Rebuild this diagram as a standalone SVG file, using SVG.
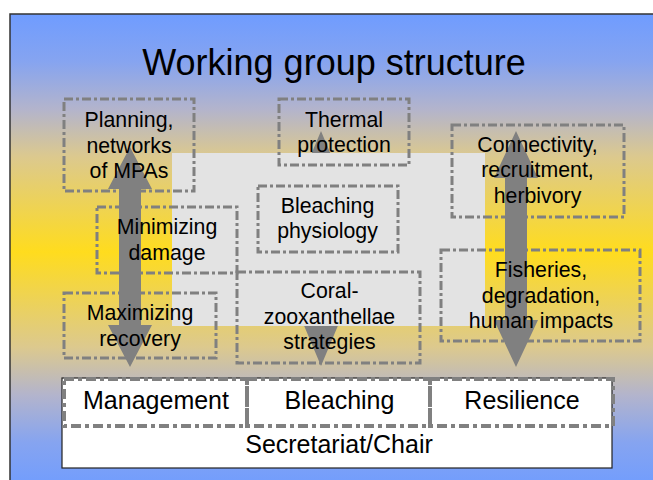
<svg xmlns="http://www.w3.org/2000/svg" width="653" height="480" viewBox="0 0 653 480">
<defs>
<linearGradient id="bg" x1="0" y1="14" x2="0" y2="490" gradientUnits="userSpaceOnUse">
<stop offset="0" stop-color="#6f9cff"/>
<stop offset="0.1" stop-color="#86a4f0"/>
<stop offset="0.2" stop-color="#b3b4cc"/>
<stop offset="0.3" stop-color="#dcc98e"/>
<stop offset="0.5" stop-color="#ffdc1e"/>
<stop offset="0.7" stop-color="#dcc98e"/>
<stop offset="0.8" stop-color="#b3b4cc"/>
<stop offset="0.9" stop-color="#86a4f0"/>
<stop offset="1" stop-color="#6f9cff"/>
</linearGradient>
<style>
text{font-family:"Liberation Sans",Arial,sans-serif;fill:#000;text-anchor:middle}
.lbl{font-size:21.3px}
.bl{font-size:25px}
.db{fill:none;stroke:#808080;stroke-width:3;stroke-dasharray:9 3 3 3}
.bb{fill:none;stroke:#808080;stroke-width:4;stroke-dasharray:10 4 4 4}
.arr{fill:#808080}
</style>
</defs>
<rect x="0" y="0" width="653" height="480" fill="#fff"/>
<rect x="10" y="14" width="660" height="480" fill="url(#bg)" stroke="#333" stroke-width="1.5"/>
<text x="334" y="75" style="font-size:36px">Working group structure</text>

<g id="connectors">
<polygon id="arrow-center" class="arr" points="321,131 342,181 331,181 331,316 342,316 321,366 300,316 311,316 311,181 300,181"/>
</g>
<rect id="backdrop" x="172" y="153" width="313" height="173" fill="#e3e3e3"/>

<g id="secretariat">
<rect x="62" y="378" width="550" height="90" fill="#fff" stroke="#222" stroke-width="1.2"/>
<text class="bl" x="339" y="453">Secretariat/Chair</text>
</g>
<g id="management">
<rect class="bb" x="64" y="379" width="183" height="47"/>
</g>
<g id="bleaching">
<rect class="bb" x="247" y="379" width="183" height="47"/>
</g>
<g id="resilience">
<rect class="bb" x="430" y="379" width="183" height="47"/>
</g>

<g id="planning"><rect class="db" x="64" y="99" width="130" height="92"/></g>
<g id="minimizing"><rect class="db" x="97" y="207" width="140" height="66"/></g>
<g id="maximizing"><rect class="db" x="64" y="293" width="152" height="65"/></g>
<g id="thermal"><rect class="db" x="279" y="99" width="130" height="66"/></g>
<g id="physiology"><rect class="db" x="258" y="186" width="140" height="66"/></g>
<g id="coral"><rect class="db" x="237" y="272" width="183" height="91"/></g>
<g id="connectivity"><rect class="db" x="452" y="125" width="172" height="92"/></g>
<g id="fisheries"><rect class="db" x="441" y="250" width="199" height="91"/></g>

<g id="connectors-front">
<polygon id="arrow-left" class="arr" points="130,147 152,189 141,189 141,325 152,325 130,367 108,325 119,325 119,189 108,189"/>
<polygon id="arrow-right" class="arr" points="516,131 538,178 527,178 527,320 538,320 516,367 494,320 505,320 505,178 494,178"/>
</g>

<g id="labels">
<text class="lbl"><tspan x="129" y="127">Planning,</tspan><tspan x="129" y="153">networks</tspan><tspan x="129" y="178">of MPAs</tspan></text>
<text class="lbl"><tspan x="167" y="234">Minimizing</tspan><tspan x="167" y="259.5">damage</tspan></text>
<text class="lbl"><tspan x="140" y="320">Maximizing</tspan><tspan x="140" y="345.5">recovery</tspan></text>
<text class="lbl"><tspan x="344" y="127">Thermal</tspan><tspan x="344" y="152">protection</tspan></text>
<text class="lbl"><tspan x="327.5" y="212.5">Bleaching</tspan><tspan x="327.5" y="237.5">physiology</tspan></text>
<text class="lbl"><tspan x="329.5" y="298">Coral-</tspan><tspan x="329.5" y="323.5">zooxanthellae</tspan><tspan x="329.5" y="349">strategies</tspan></text>
<text class="lbl"><tspan x="537.5" y="152">Connectivity,</tspan><tspan x="537.5" y="177">recruitment,</tspan><tspan x="537.5" y="202.5">herbivory</tspan></text>
<text class="lbl"><tspan x="541" y="277">Fisheries,</tspan><tspan x="541" y="302.5">degradation,</tspan><tspan x="541" y="328">human impacts</tspan></text>
<text class="bl" x="156" y="409">Management</text>
<text class="bl" x="339.5" y="409">Bleaching</text>
<text class="bl" x="522" y="409">Resilience</text>
</g>
</svg>
